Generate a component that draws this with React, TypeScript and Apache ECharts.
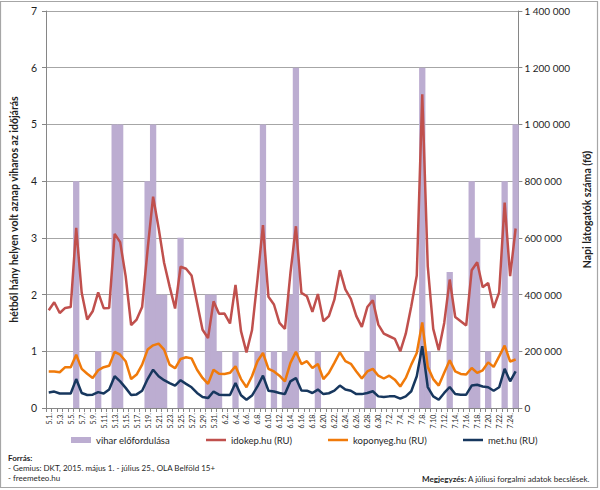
import React, { useEffect, useRef } from "react";
import * as echarts from "echarts";

const categories = [
  "5.1.", "5.2.", "5.3.", "5.4.", "5.5.", "5.6.", "5.7.", "5.8.", "5.9.", "5.10.",
  "5.11.", "5.12.", "5.13.", "5.14.", "5.15.", "5.16.", "5.17.", "5.18.", "5.19.", "5.20.",
  "5.21.", "5.22.", "5.23.", "5.24.", "5.25.", "5.26.", "5.27.", "5.28.", "5.29.", "5.30.",
  "5.31.", "6.1.", "6.2.", "6.3.", "6.4.", "6.5.", "6.6.", "6.7.", "6.8.", "6.9.",
  "6.10.", "6.11.", "6.12.", "6.13.", "6.14.", "6.15.", "6.16.", "6.17.", "6.18.", "6.19.",
  "6.20.", "6.21.", "6.22.", "6.23.", "6.24.", "6.25.", "6.26.", "6.27.", "6.28.", "6.29.",
  "6.30.", "7.1.", "7.2.", "7.3.", "7.4.", "7.5.", "7.6.", "7.7.", "7.8.", "7.9.",
  "7.10.", "7.11.", "7.12.", "7.13.", "7.14.", "7.15.", "7.16.", "7.17.", "7.18.", "7.19.",
  "7.20.", "7.21.", "7.22.", "7.23.", "7.24.", "7.25.",
];

// number of places (out of 7) with stormy weather
const vihar = [
  0, 0, 0, 0, 0, 4, 0, 0, 0, 1,
  0, 0, 5, 5, 0, 0, 0, 0, 4, 5,
  2, 2, 0, 0, 3, 0, 0, 0, 0, 2,
  2, 1, 0, 0, 1, 0, 0, 0, 1, 5,
  0, 1, 0, 1, 2, 6, 0, 0, 0, 1,
  0, 0, 0, 0, 0, 0, 0, 0, 1, 2,
  0, 0, 0, 0, 0, 0, 0, 0, 6, 1,
  0, 0, 0, 2.4, 0, 0, 0, 4, 3, 0,
  1, 0, 0, 4, 0, 5,
];

// daily visitors (thousands)
const idokep = [
  345, 373, 335, 353, 356, 635, 406, 312, 341, 408,
  352, 353, 614, 585, 465, 292, 312, 356, 559, 745,
  635, 512, 429, 351, 498, 491, 467, 371, 276, 247,
  376, 332, 333, 298, 434, 271, 196, 274, 453, 645,
  392, 365, 300, 279, 476, 641, 406, 394, 339, 402,
  306, 324, 382, 486, 418, 385, 324, 286, 356, 380,
  294, 262, 253, 244, 200, 262, 359, 467, 1106, 500,
  279, 204, 300, 453, 321, 306, 291, 486, 514, 426,
  441, 353, 408, 724, 465, 633,
];

const koponyeg = [
  129, 129, 126, 144, 144, 188, 138, 121, 106, 133,
  144, 149, 198, 188, 165, 102, 118, 153, 206, 221,
  227, 206, 153, 140, 173, 179, 175, 135, 106, 85,
  135, 121, 120, 124, 147, 102, 73, 112, 165, 194,
  138, 129, 114, 94, 159, 198, 155, 165, 141, 155,
  102, 124, 159, 196, 165, 156, 129, 104, 129, 138,
  114, 104, 114, 100, 76, 106, 153, 194, 302, 145,
  102, 79, 124, 168, 129, 120, 118, 141, 124, 133,
  161, 145, 182, 220, 164, 171,
];

const met = [
  55, 58, 51, 51, 51, 102, 53, 46, 47, 56,
  51, 65, 112, 94, 71, 46, 48, 61, 102, 135,
  112, 98, 88, 79, 98, 85, 73, 53, 39, 35,
  58, 47, 46, 46, 88, 45, 29, 44, 76, 114,
  61, 58, 53, 49, 94, 106, 62, 61, 53, 65,
  49, 52, 61, 79, 65, 61, 49, 49, 53, 59,
  41, 39, 41, 41, 33, 41, 59, 112, 218, 74,
  41, 29, 53, 74, 49, 47, 47, 79, 82, 76,
  73, 61, 73, 138, 94, 129,
];

const FONT = "Lato, 'Liberation Sans', sans-serif";
const TXT = "#1f1f1f";
const BAR = "#bcadd1";

const fmtThousands = (v: number) =>
  String(Math.round(v)).replace(/\B(?=(\d{3})+(?!\d))/g, " ");

export default function App() {
  const ref = useRef<HTMLDivElement>(null);

  useEffect(() => {
    document.body.style.margin = "0";
    if (!ref.current) return;
    const chart = echarts.init(ref.current, null, { renderer: "svg" });

    const lineSeries = (name: string, data: number[], color: string) => ({
      name,
      type: "line",
      yAxisIndex: 1,
      data: data.map((v) => v * 1000),
      symbol: "none",
      lineStyle: { color, width: 2.5 },
      itemStyle: { color },
      z: 3,
    });

    const legendBase = {
      top: 435,
      padding: 0,
      itemWidth: 20,
      itemGap: 0,
      selectedMode: false,
      textStyle: { fontFamily: FONT, fontSize: 9.5, color: TXT },
    };

    chart.setOption({
      animation: false,
      backgroundColor: "#ffffff",
      textStyle: { fontFamily: FONT },
      grid: { left: 45, right: 81, top: 11, bottom: 82, containLabel: false },
      legend: [
        { ...legendBase, left: 71, itemHeight: 6, data: [{ name: "vihar előfordulása", icon: "rect" }] },
        { ...legendBase, left: 206, itemHeight: 2.5, data: [{ name: "idokep.hu (RU)", icon: "rect" }] },
        { ...legendBase, left: 328, itemHeight: 2.5, data: [{ name: "koponyeg.hu (RU)", icon: "rect" }] },
        { ...legendBase, left: 463, itemHeight: 2.5, data: [{ name: "met.hu (RU)", icon: "rect" }] },
      ],
      xAxis: {
        type: "category",
        data: categories,
        boundaryGap: true,
        axisLine: { lineStyle: { color: "#868686", width: 1 } },
        axisTick: { show: true, interval: 0, length: 4, lineStyle: { color: "#868686" } },
        axisLabel: {
          interval: 1,
          rotate: 90,
          fontSize: 7,
          color: TXT,
          fontFamily: FONT,
          margin: 5,
        },
        splitLine: { show: false },
      },
      yAxis: [
        {
          type: "value",
          min: 0,
          max: 7,
          interval: 1,
          name: "hétből hány helyen volt aznap viharos az időjárás",
          nameLocation: "middle",
          nameGap: 27,
          nameTextStyle: { fontFamily: FONT, fontSize: 10.5, fontWeight: "bold", color: TXT },
          axisLine: { show: true, lineStyle: { color: "#868686" } },
          axisTick: { show: true, length: 4, lineStyle: { color: "#868686" } },
          axisLabel: { fontSize: 10.5, color: TXT, fontFamily: FONT, margin: 9 },
          splitLine: { show: true, lineStyle: { color: "#a6a6a6", width: 1 } },
        },
        {
          type: "value",
          min: 0,
          max: 1400000,
          interval: 200000,
          position: "right",
          name: "Napi látogatók száma (fő)",
          nameLocation: "middle",
          nameGap: 62,
          nameTextStyle: { fontFamily: FONT, fontSize: 10.5, fontWeight: "bold", color: TXT },
          axisLine: { show: true, lineStyle: { color: "#868686" } },
          axisTick: { show: true, length: 4, lineStyle: { color: "#868686" } },
          axisLabel: {
            fontSize: 10,
            color: TXT,
            fontFamily: FONT,
            margin: 6,
            formatter: (v: number) => fmtThousands(v),
          },
          splitLine: { show: false },
        },
      ],
      series: [
        {
          name: "vihar előfordulása",
          type: "custom",
          yAxisIndex: 0,
          data: vihar.map((v, i) => [i, v]),
          encode: { x: 0, y: 1 },
          itemStyle: { color: BAR },
          z: 1,
          renderItem: (params: any, api: any) => {
            const v = api.value(1);
            if (!v) return null;
            const top = api.coord([api.value(0), v]);
            const base = api.coord([api.value(0), 0]);
            const w = api.size([1, 0])[0];
            return {
              type: "rect",
              shape: { x: top[0] - w / 2 - 0.4, y: top[1], width: w + 0.8, height: base[1] - top[1] },
              style: { fill: BAR, stroke: "none" },
            };
          },
        },
        lineSeries("idokep.hu (RU)", idokep, "#c0504d"),
        lineSeries("koponyeg.hu (RU)", koponyeg, "#f07a0a"),
        lineSeries("met.hu (RU)", met, "#17375e"),
      ],
      graphic: [
        {
          type: "rect",
          shape: { x: 0.5, y: 1.5, width: 597, height: 486 },
          style: { fill: "none", stroke: "#a6a6a6", lineWidth: 1.2 },
          silent: true,
        },
        {
          type: "text",
          left: 8,
          top: 454,
          style: {
            text: "Forrás:",
            fontFamily: FONT,
            fontSize: 8,
            fontWeight: "bold",
            fill: TXT,
          },
        },
        {
          type: "text",
          left: 8,
          top: 464,
          style: {
            text: "- Gemius: DKT, 2015. május 1. - július 25., OLA Belföld 15+",
            fontFamily: FONT,
            fontSize: 8,
            fill: TXT,
          },
        },
        {
          type: "text",
          left: 8,
          top: 474,
          style: {
            text: "- freemeteo.hu",
            fontFamily: FONT,
            fontSize: 8,
            fill: TXT,
          },
        },
        {
          type: "text",
          right: 10,
          top: 475,
          style: {
            text: "{b|Megjegyzés:} A júliusi forgalmi adatok becslések.",
            fontFamily: FONT,
            fontSize: 8,
            fill: TXT,
            rich: {
              b: { fontFamily: FONT, fontSize: 8, fontWeight: "bold", fill: TXT },
            },
          },
        },
      ],
    });

    return () => chart.dispose();
  }, []);

  return <div ref={ref} style={{ width: 600, height: 490 }} />;
}
